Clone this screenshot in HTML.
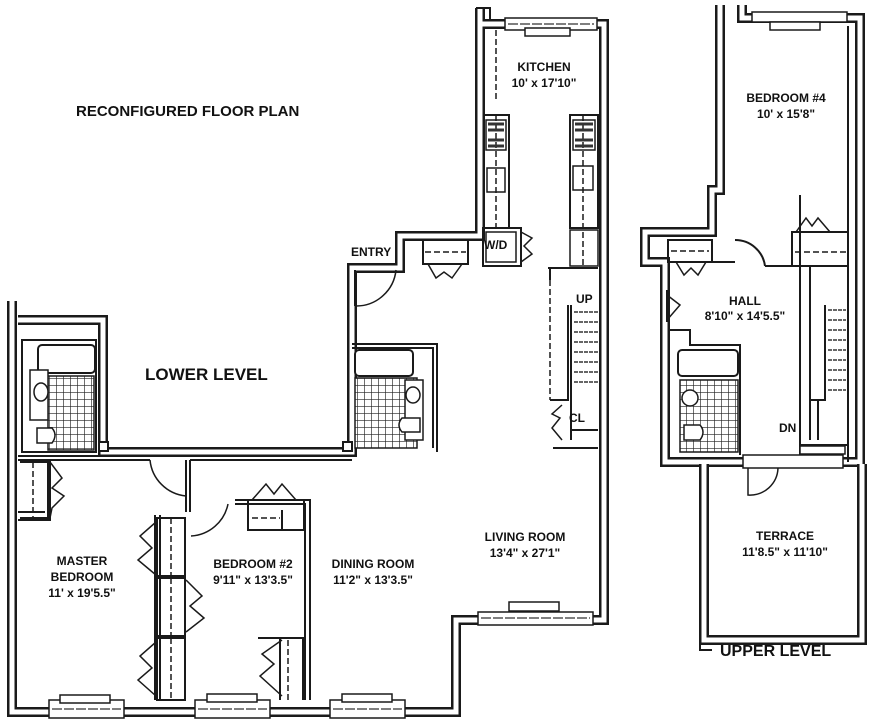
<!DOCTYPE html>
<html><head><meta charset="utf-8"><style>
html,body{margin:0;padding:0;background:#fff}
svg{display:block}
text{font-family:"Liberation Sans",sans-serif;font-weight:bold;fill:#111}
.w{fill:none;stroke:#1a1a1a;stroke-width:10;stroke-linejoin:miter}
.wi{fill:none;stroke:#fff;stroke-width:5;stroke-linejoin:miter}
.t{fill:none;stroke:#1a1a1a;stroke-width:2}
.th{fill:none;stroke:#1a1a1a;stroke-width:1.5}
.d{fill:none;stroke:#1a1a1a;stroke-width:1.5;stroke-dasharray:6 3}
</style></head><body>
<svg width="871" height="721" viewBox="0 0 871 721" xmlns="http://www.w3.org/2000/svg">
<defs>
<pattern id="tile" width="7" height="7" patternUnits="userSpaceOnUse">
<rect width="7" height="7" fill="#fff"/><path d="M0 0H7M0 0V7" stroke="#222" stroke-width="1.3"/>
</pattern>
</defs>

<!-- LOWER LEVEL outer walls -->
<g>
<path class="w" d="M12,301 L12,712 L456,712 L456,620 L604,620 L604,24 L480,24 M480,8 L480,236 L400,236 L400,268 L352,268 L352,452 L103,452 L103,320 L18,320"/>
<path class="wi" d="M12,301 L12,712 L456,712 L456,620 L604,620 L604,24 L480,24 M480,8 L480,236 L400,236 L400,268 L352,268 L352,452 L103,452 L103,320 L18,320"/>
</g>
<path class="t" d="M476,8 H490 V20"/>
<!-- interior lower -->
<path class="t" d="M18,456 H150 M190,456 H352"/>
<path class="t" d="M18,460 H150 M190,460 H352"/>
<path class="t" d="M155,515 V700 M160,515 V700"/>
<path class="t" d="M186,460 V512 M190,460 V512"/>
<path class="t" d="M235,500 H310 V700 M235,504 H305 V700"/>
<path class="t" d="M18,520 H50 V460 M18,512 H45"/>
<!-- master closet -->
<path class="t" d="M20,462 H48 V518 H20"/><path class="d" d="M33,462 V518"/>
<path class="th" d="M50,462 L62,478 L52,488 L64,496 L52,508 L50,518"/>
<!-- bed2 closets -->
<rect class="t" x="157" y="518" width="28" height="58"/><path class="d" d="M171,518V576"/>
<rect class="t" x="157" y="578" width="28" height="58"/><path class="d" d="M171,578V636"/>
<rect class="t" x="157" y="638" width="28" height="62"/><path class="d" d="M171,638V700"/>
<path class="th" d="M156,522 L140,536 L152,548 L138,560 L156,575"/>
<path class="th" d="M186,580 L202,596 L190,606 L204,618 L186,632"/>
<path class="th" d="M156,642 L140,656 L152,668 L138,680 L156,696"/>
<path class="t" d="M258,638 H303 V700 M280,638 V700"/><path class="d" d="M288,640 V700"/>
<path class="th" d="M282,640 L262,654 L274,664 L260,676 L282,696"/>
<rect class="t" x="248" y="500" width="56" height="30"/><path class="t" d="M282,510V530"/><path class="d" d="M252,518H280"/>
<path class="th" d="M252,500 L266,484 L274,494 L282,484 L296,500"/>
<!-- doors lower -->
<path class="th" d="M150,460 A40,40 0 0 0 186,496"/>
<path class="th" d="M191,536 A40,40 0 0 0 228,504"/>
<path class="th" d="M356,306 A40,40 0 0 0 396,270"/>
<path class="t" d="M355,270 V306"/>
<!-- left bath -->
<rect class="t" x="22" y="340" width="74" height="112"/>
<rect x="38" y="345" width="57" height="28" rx="4" fill="#fff" stroke="#1a1a1a" stroke-width="2"/>
<rect x="48" y="376" width="46" height="74" fill="url(#tile)" stroke="#1a1a1a" stroke-width="1.5"/>
<rect x="30" y="370" width="18" height="50" fill="#fff" stroke="#1a1a1a" stroke-width="1.5"/>
<ellipse cx="41" cy="392" rx="7" ry="9" fill="#fff" stroke="#1a1a1a" stroke-width="1.5"/>
<path d="M37,428 H52 Q58,435 52,443 H37 Z" fill="#fff" stroke="#1a1a1a" stroke-width="1.5"/>
<rect x="99" y="442" width="9" height="9" fill="#fff" stroke="#1a1a1a" stroke-width="2"/>
<!-- right bath lower -->
<path class="t" d="M352,344 H437 V452 M352,348 H433 V448"/>
<rect x="355" y="350" width="58" height="26" rx="4" fill="#fff" stroke="#1a1a1a" stroke-width="2"/>
<rect x="355" y="378" width="62" height="70" fill="url(#tile)" stroke="#1a1a1a" stroke-width="1.5"/>
<rect x="405" y="380" width="18" height="60" fill="#fff" stroke="#1a1a1a" stroke-width="1.5"/>
<ellipse cx="413" cy="395" rx="7" ry="8" fill="#fff" stroke="#1a1a1a" stroke-width="1.5"/>
<path d="M420,418 H402 Q396,425 402,432 H420 Z" fill="#fff" stroke="#1a1a1a" stroke-width="1.5"/>
<rect x="343" y="442" width="9" height="9" fill="#fff" stroke="#1a1a1a" stroke-width="2"/>
<!-- entry closet + W/D -->
<rect class="t" x="423" y="240" width="45" height="24"/><path class="d" d="M425,252 H466"/>
<path class="th" d="M428,264 L436,278 L444,272 L452,278 L462,264"/>
<rect class="t" x="483" y="228" width="38" height="38"/><rect class="th" x="486" y="232" width="30" height="30"/>
<path class="th" d="M521,232 L532,238 L524,246 L532,254 L521,262"/>
<text x="484" y="249" font-size="12">W/D</text>
<!-- kitchen counters -->
<rect class="t" x="484" y="115" width="25" height="113"/><path class="d" d="M496,30 V100 M496,115 V228"/>
<rect class="th" x="486" y="120" width="20" height="30"/><path d="M488,124h16M488,130h16M488,140h16M488,146h16" stroke="#333" stroke-width="3"/>
<rect class="th" x="487" y="168" width="18" height="24"/>
<rect class="t" x="570" y="115" width="28" height="113"/><path class="d" d="M583,115 V268"/>
<rect class="th" x="573" y="120" width="22" height="30"/><path d="M575,124h18M575,130h18M575,140h18M575,146h18" stroke="#333" stroke-width="3"/>
<rect class="th" x="573" y="166" width="20" height="24"/>
<rect class="th" x="570" y="230" width="28" height="36"/>
<!-- stairs lower -->
<path class="t" d="M548,268 H598 M550,268 V280"/><path class="d" d="M550,280 V400"/>
<path class="t" d="M550,400 H568 V305 M571,305 V440 M571,430 H598 M553,448 H598"/>
<path d="M574,312H598M574,322H598M574,332H598M574,342H598M574,352H598M574,362H598M574,372H598M574,382H598" stroke="#333" stroke-width="1.5" stroke-dasharray="4 1"/>
<path class="th" d="M562,405 L552,414 L560,418 L552,428 L562,440"/>
<!-- windows lower -->
<g fill="#fff" stroke="#1a1a1a" stroke-width="1.5">
<rect x="49" y="700" width="75" height="18"/><rect x="60" y="695" width="50" height="8"/>
<rect x="195" y="700" width="75" height="18"/><rect x="207" y="694" width="50" height="8"/>
<rect x="330" y="700" width="75" height="18"/><rect x="342" y="694" width="50" height="8"/>
<rect x="478" y="612" width="115" height="13"/><rect x="509" y="602" width="50" height="9"/>
<rect x="505" y="18" width="92" height="12"/><rect x="525" y="28" width="45" height="8"/>
</g>
<path d="M52,709H121M198,709H267M333,709H402M481,618H590M508,24H594" stroke="#333" stroke-width="1.2" stroke-dasharray="10 2"/>

<!-- UPPER LEVEL -->
<path class="w" d="M720,5 L720,190 L712,190 L712,232 L645,232 L645,262 L665,262 L665,462 L860,462 L860,18 L742,18 L742,5"/>
<path class="wi" d="M720,5 L720,190 L712,190 L712,232 L645,232 L645,262 L665,262 L665,462 L860,462 L860,18 L742,18 L742,5"/>
<path class="w" d="M704,464 L704,640 L862,640 L862,464"/><path class="wi" d="M704,464 L704,640 L862,640 L862,464"/>
<path class="t" d="M700,630 V650 H712 M848,26 V462"/>
<path class="t" d="M712,262 H735 M765,266 H800 M800,266 V195 M800,266 V455"/>
<path class="t" d="M735,240 A30,30 0 0 1 765,266"/>
<rect class="t" x="668" y="240" width="44" height="22"/><path class="d" d="M671,251H709"/>
<path class="th" d="M676,262 L684,275 L691,268 L698,275 L706,262"/>
<rect class="t" x="792" y="232" width="56" height="34"/><path class="d" d="M795,252H846"/>
<path class="th" d="M796,232 L806,218 L812,226 L818,218 L830,232"/>
<path class="th" d="M667,295 L680,305 L667,320"/><path class="t" d="M667,290 V322"/>
<path class="t" d="M810,266 V400 H825 V305"/>
<path d="M828,310H846M828,320H846M828,330H846M828,340H846M828,350H846M828,360H846M828,370H846M828,380H846M828,390H846" stroke="#333" stroke-width="1.5" stroke-dasharray="4 1"/>
<path class="t" d="M800,400 V445 H848 M810,400V440 M818,400V440"/>
<!-- upper bath -->
<path class="t" d="M670,330 H690 V345 H740 V455"/>
<rect x="678" y="350" width="60" height="26" rx="4" fill="#fff" stroke="#1a1a1a" stroke-width="2"/>
<rect x="680" y="380" width="58" height="72" fill="url(#tile)" stroke="#1a1a1a" stroke-width="1.5"/>
<ellipse cx="690" cy="398" rx="8" ry="8" fill="#fff" stroke="#1a1a1a" stroke-width="1.5"/>
<path d="M684,425 H700 Q706,432 700,440 H684 Z" fill="#fff" stroke="#1a1a1a" stroke-width="1.5"/>
<g fill="#fff" stroke="#1a1a1a" stroke-width="1.5">
<rect x="743" y="455" width="100" height="13"/><rect x="800" y="446" width="45" height="8"/>
<rect x="752" y="12" width="95" height="10"/><rect x="770" y="22" width="50" height="8"/>
</g>
<path class="th" d="M748,468 V495 A28,28 0 0 0 778,468"/>

<!-- Labels -->
<text x="76" y="116" font-size="15">RECONFIGURED FLOOR PLAN</text>
<text x="145" y="380" font-size="17">LOWER LEVEL</text>
<text x="720" y="656" font-size="16">UPPER LEVEL</text>
<g font-size="12" text-anchor="middle">
<text x="544" y="71">KITCHEN</text><text x="544" y="87">10' x 17'10"</text>
<text x="525" y="541">LIVING ROOM</text><text x="525" y="557">13'4" x 27'1"</text>
<text x="373" y="568">DINING ROOM</text><text x="373" y="584">11'2" x 13'3.5"</text>
<text x="253" y="568">BEDROOM #2</text><text x="253" y="584">9'11" x 13'3.5"</text>
<text x="82" y="565">MASTER</text><text x="82" y="581">BEDROOM</text><text x="82" y="597">11' x 19'5.5"</text>
<text x="786" y="102">BEDROOM #4</text><text x="786" y="118">10' x 15'8"</text>
<text x="745" y="305">HALL</text><text x="745" y="320">8'10" x 14'5.5"</text>
<text x="785" y="540">TERRACE</text><text x="785" y="556">11'8.5" x 11'10"</text>
</g>
<g font-size="12">
<text x="351" y="256">ENTRY</text><text x="576" y="303">UP</text><text x="569" y="422">CL</text><text x="779" y="432">DN</text>
</g>
</svg>
</body></html>
